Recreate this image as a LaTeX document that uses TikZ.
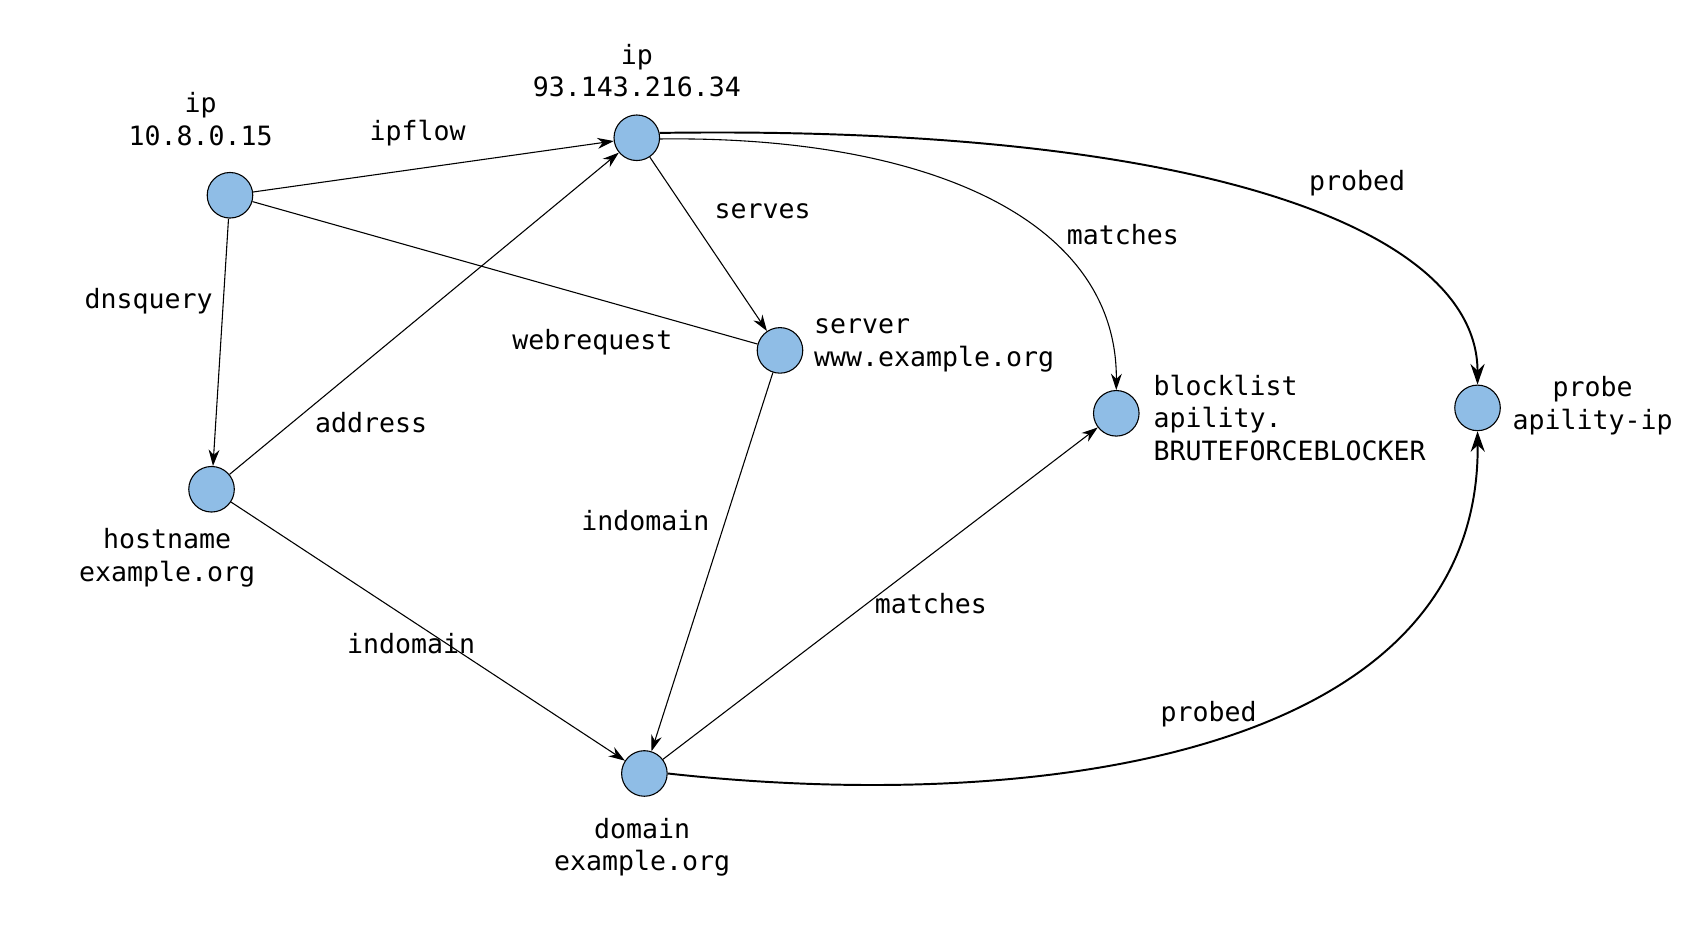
\documentclass[tikz,border=0pt]{standalone}
\usepackage{fontspec}
\setmonofont{DejaVu Sans Mono}
\usetikzlibrary{arrows.meta}
\definecolor{nodeblue}{RGB}{143,189,230}
\begin{document}
\begin{tikzpicture}[x=0.5pt,y=-0.5pt,
  vtx/.style={circle,draw=black,fill=nodeblue,line width=0.5pt,minimum size=21pt,inner sep=0pt},
  lbl/.style={font=\fontsize{12.25}{15}\selectfont\ttfamily,inner sep=0pt},
  conn/.style={line width=0.5pt,-{Stealth[length=7.5pt,width=5pt]}},
  plain/.style={line width=0.5pt},
  thick conn/.style={line width=0.9pt,-{Stealth[length=9.5pt,width=6.5pt]}}]
\useasboundingbox (0,0) rectangle (1568,871);
% vertices
\node[vtx] (ipa) at (212,180) {};
\node[vtx] (ipb) at (587,127) {};
\node[vtx] (srv) at (719,323) {};
\node[vtx] (host) at (195,451) {};
\node[vtx] (dom) at (594,713) {};
\node[vtx] (blk) at (1029,381) {};
\node[vtx] (prb) at (1362,376) {};
% vertex labels
\node[lbl,align=center] (ipalbl) at (185,110) {ip\\10.8.0.15};
\node[lbl,align=center] (ipblbl) at (587,65) {ip\\93.143.216.34};
\node[lbl,align=left,anchor=west] (srvlbl) at (750,318.5) {server\\www.example.org};
\node[lbl,align=left,anchor=west] (blklbl) at (1063,385) {blocklist\\apility.\\BRUTEFORCEBLOCKER};
\node[lbl,align=center] (prblbl) at (1468,374) {probe\\apility-ip};
\node[lbl,align=center] (hostlbl) at (154,514) {hostname\\example.org};
\node[lbl,align=center] (domlbl) at (592,781) {domain\\example.org};
% edges
\draw[conn] (ipa) -- (ipb);
\draw[conn] (ipa) -- (host);
\draw[plain] (ipa) -- (srv);
\draw[conn] (host) -- (ipb);
\draw[conn] (ipb) -- (srv);
\draw[conn] (srv) -- (dom);
\draw[conn] (host) -- (dom);
\draw[conn] (dom) -- (blk);
\draw[conn] (ipb.-3) .. controls (850,125) and (1030,200) .. (blk.north);
\draw[thick conn] (ipb.12) .. controls (1120,115) and (1362,215) .. (prb.north);
\draw[thick conn] (dom.east) .. controls (950,750) and (1365,700) .. (prb.south);
% edge labels
\node[lbl] (l1) at (385,123) {ipflow};
\node[lbl] (l2) at (137,278) {dnsquery};
\node[lbl] (l3) at (546,315) {webrequest};
\node[lbl] (l4) at (342,390) {address};
\node[lbl] (l5) at (703,195) {serves};
\node[lbl] (l6) at (1035,216) {matches};
\node[lbl] (l7) at (1251,169) {probed};
\node[lbl] (l8) at (595,480) {indomain};
\node[lbl] (l9) at (379,593) {indomain};
\node[lbl] (l10) at (858,556) {matches};
\node[lbl] (l11) at (1114,658) {probed};
\end{tikzpicture}
\end{document}
